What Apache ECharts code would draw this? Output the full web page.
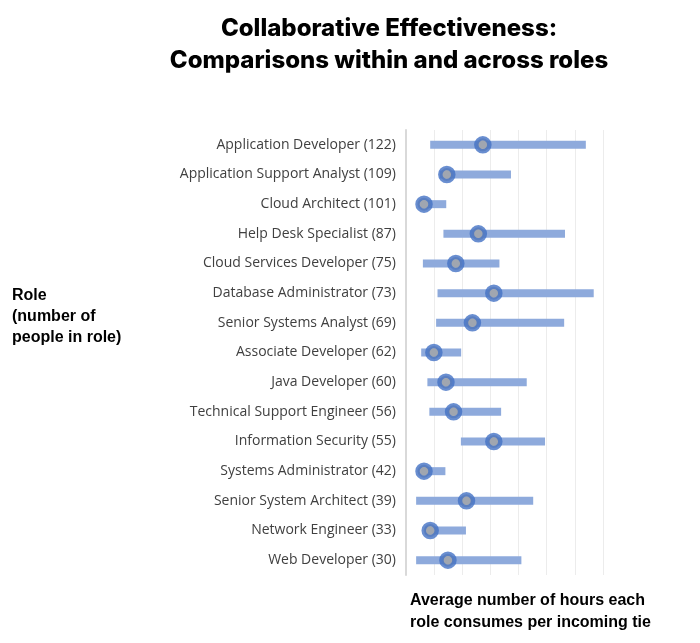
<!DOCTYPE html>
<html><head><meta charset="utf-8">
<script src="https://cdn.jsdelivr.net/npm/echarts@6/dist/echarts.min.js"></script>
<style>html,body{margin:0;padding:0;background:#fff}#c{width:700px;height:643px}</style>
</head><body><div id="c"></div>
<script>
const roles = ["Application Developer (122)","Application Support Analyst (109)","Cloud Architect (101)","Help Desk Specialist (87)","Cloud Services Developer (75)","Database Administrator (73)","Senior Systems Analyst (69)","Associate Developer (62)","Java Developer (60)","Technical Support Engineer (56)","Information Security (55)","Systems Administrator (42)","Senior System Architect (39)","Network Engineer (33)","Web Developer (30)"];
const minVals = [0.86,1.2,0.5,1.33,0.6,1.12,1.07,0.54,0.76,0.83,1.95,0.5,0.36,0.68,0.36];
const maxVals = [6.39,3.73,1.43,5.65,3.32,6.67,5.62,1.96,4.29,3.38,4.94,1.4,4.52,2.13,4.1];
const avgVals = [2.73,1.45,0.64,2.57,1.77,3.12,2.36,0.99,1.42,1.69,3.12,0.64,2.15,0.86,1.49];
const chart = echarts.init(document.getElementById('c'));
chart.setOption({
  animation:false,
  title:{text:"Collaborative Effectiveness:\nComparisons within and across roles",left:384,top:8,textAlign:'center',
    textStyle:{fontFamily:'Inter',fontWeight:800,fontSize:24,lineHeight:32,color:'#000'}},
  graphic:[
    {type:'text',left:12,top:285,style:{text:"Role\n(number of\npeople in role)",font:'bold 16px Arial, Liberation Sans',lineHeight:21,fill:'#000'}},
    {type:'text',left:410,top:590,style:{text:"Average number of hours each\nrole consumes per incoming tie",font:'bold 16px Arial, Liberation Sans',lineHeight:22,fill:'#000'}}
  ],
  grid:{left:406,right:97,top:130,height:445},
  xAxis:{type:'value',min:0,max:7,interval:1,axisLabel:{show:false},axisLine:{show:false},axisTick:{show:false},
    splitLine:{lineStyle:{color:'#ececec'}}},
  yAxis:{type:'category',data:roles,inverse:true,axisTick:{show:false},
    axisLine:{lineStyle:{color:'#d9d9d9',width:2}},
    axisLabel:{fontFamily:'Open Sans',fontSize:14,color:'#404040',margin:10}},
  series:[
    {type:'bar',stack:'r',data:minVals,itemStyle:{color:'transparent'},barWidth:8,silent:true},
    {type:'bar',stack:'r',data:maxVals.map((v,i)=>+(v-minVals[i]).toFixed(2)),itemStyle:{color:'#8eaadc'},barWidth:8},
    {type:'scatter',data:avgVals.map((v,i)=>[v,i]),symbolSize:13,z:5,
      itemStyle:{color:'#a5a5a5',borderColor:'#4472c4',borderWidth:4.5}}
  ]
});
</script></body></html>
